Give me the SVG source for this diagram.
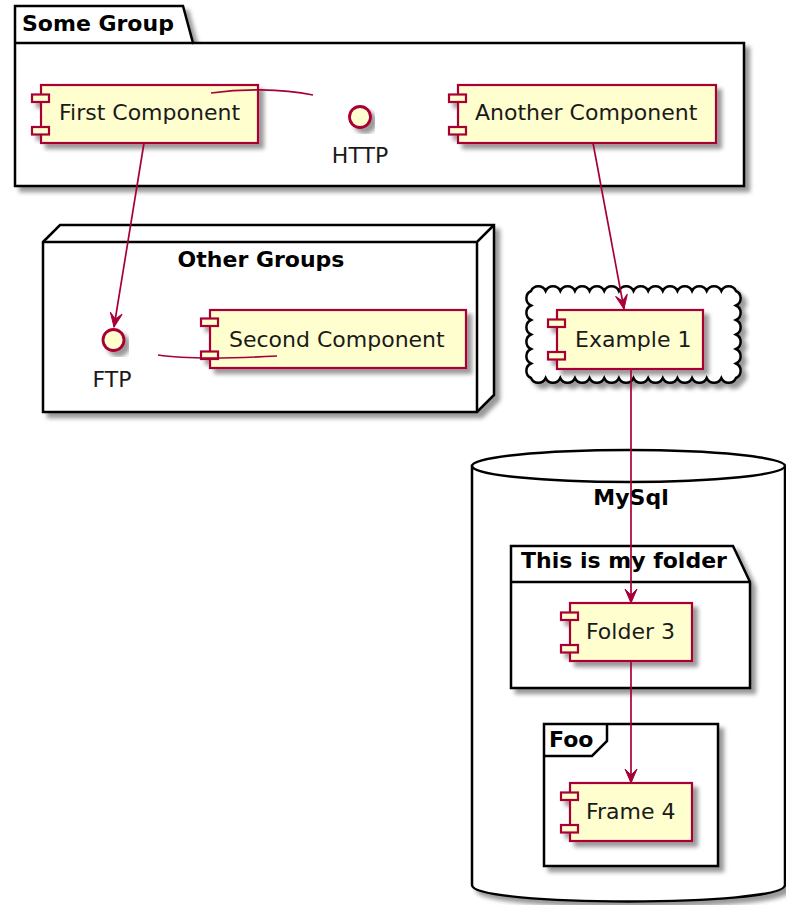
<svg xmlns="http://www.w3.org/2000/svg" width="786" height="905" viewBox="0 0 786 905">
<defs>
<filter id="sh" x="-10%" y="-10%" width="130%" height="140%">
<feGaussianBlur in="SourceAlpha" stdDeviation="2.2"/>
<feOffset dx="4.5" dy="4.5" result="o"/>
<feComponentTransfer in="o" result="s"><feFuncA type="linear" slope="0.4"/></feComponentTransfer>
<feMerge><feMergeNode in="s"/><feMergeNode in="SourceGraphic"/></feMerge>
</filter>
<marker id="ah" markerUnits="userSpaceOnUse" viewBox="-15 -7 16 14" markerWidth="16" markerHeight="14" refX="0" refY="0" orient="auto">
<path d="M0,0 L-14,-6 L-8,0 L-14,6 Z" fill="#A80036" stroke="#A80036" stroke-width="1" stroke-linejoin="miter"/>
</marker>
</defs>
<style>
.grp{fill:#fff;stroke:#000;stroke-width:2.5;}
.gl{fill:none;stroke:#000;stroke-width:2.5;}
.comp{fill:#FEFECE;stroke:#A80036;stroke-width:2.2;}
.ifc{fill:#FEFECE;stroke:#A80036;stroke-width:2.8;}
.t{font-family:"DejaVu Sans",sans-serif;font-size:22px;fill:#1a1a1a;}
.b{font-family:"DejaVu Sans",sans-serif;font-size:22px;font-weight:bold;fill:#000;}
.ln{fill:none;stroke:#A80036;stroke-width:1.7;}
</style>

<g id="some-group">
<path class="grp" filter="url(#sh)" d="M15,6 L183,6 L193,43 L744,43 L744,186 L15,186 Z"/>
<path class="gl" d="M15,43 L193,43"/>
<text class="b" x="22" y="31">Some Group</text>
</g>

<g id="other-groups">
<path class="grp" filter="url(#sh)" d="M43,242 L60,225 L494,225 L494,395 L477,412 L43,412 Z"/>
<path class="gl" d="M43,242 L477,242 L494,225 M477,242 L477,412"/>
<text class="b" x="261" y="267" text-anchor="middle">Other Groups</text>
</g>

<g id="cloud">
<path class="grp" filter="url(#sh)" d="M531,291 a8,8 0 0 1 14.643,0 a8,8 0 0 1 14.643,0 a8,8 0 0 1 14.643,0 a8,8 0 0 1 14.643,0 a8,8 0 0 1 14.643,0 a8,8 0 0 1 14.643,0 a8,8 0 0 1 14.643,0 a8,8 0 0 1 14.643,0 a8,8 0 0 1 14.643,0 a8,8 0 0 1 14.643,0 a8,8 0 0 1 14.643,0 a8,8 0 0 1 14.643,0 a8,8 0 0 1 14.643,0 a8,8 0 0 1 14.643,0 a8,8 0 0 1 0,14.5 a8,8 0 0 1 0,14.5 a8,8 0 0 1 0,14.5 a8,8 0 0 1 0,14.5 a8,8 0 0 1 0,14.5 a8,8 0 0 1 0,14.5 a8,8 0 0 1 -14.643,0 a8,8 0 0 1 -14.643,0 a8,8 0 0 1 -14.643,0 a8,8 0 0 1 -14.643,0 a8,8 0 0 1 -14.643,0 a8,8 0 0 1 -14.643,0 a8,8 0 0 1 -14.643,0 a8,8 0 0 1 -14.643,0 a8,8 0 0 1 -14.643,0 a8,8 0 0 1 -14.643,0 a8,8 0 0 1 -14.643,0 a8,8 0 0 1 -14.643,0 a8,8 0 0 1 -14.643,0 a8,8 0 0 1 -14.643,0 a8,8 0 0 1 0,-14.5 a8,8 0 0 1 0,-14.5 a8,8 0 0 1 0,-14.5 a8,8 0 0 1 0,-14.5 a8,8 0 0 1 0,-14.5 a8,8 0 0 1 0,-14.5 Z"/>
</g>

<g id="mysql">
<path class="grp" filter="url(#sh)" d="M472,466 L472,885 C472,907 785,907 785,885 L785,466 Z"/>
<ellipse class="grp" cx="628.5" cy="466" rx="156.5" ry="16"/>
<text class="b" x="631" y="505" text-anchor="middle">MySql</text>
</g>

<g id="my-folder">
<path class="grp" filter="url(#sh)" d="M511,546 L733,546 L750,582 L750,688 L511,688 Z"/>
<path class="gl" d="M511,582 L750,582"/>
<text class="b" x="521" y="568">This is my folder</text>
</g>

<g id="foo">
<rect class="grp" filter="url(#sh)" x="544" y="724" width="174" height="142"/>
<path class="gl" d="M544,756 L592,756 L607,741 L607,724"/>
<text class="b" x="549" y="747">Foo</text>
</g>

<g id="first-component">
<g filter="url(#sh)">
<rect class="comp" x="41" y="85" width="217" height="58"/>
<rect class="comp" x="32" y="94.5" width="17" height="7.5"/>
<rect class="comp" x="32" y="127" width="17" height="7.5"/>
</g>
<text class="t" x="59" y="120">First Component</text>
</g>

<g id="http">
<circle class="ifc" filter="url(#sh)" cx="360" cy="117" r="10.5"/>
<text class="t" x="360" y="163" text-anchor="middle">HTTP</text>
</g>

<g id="another-component">
<g filter="url(#sh)">
<rect class="comp" x="458" y="85" width="258" height="58"/>
<rect class="comp" x="449" y="94.5" width="17" height="7.5"/>
<rect class="comp" x="449" y="127" width="17" height="7.5"/>
</g>
<text class="t" x="475" y="120">Another Component</text>
</g>

<g id="ftp">
<circle class="ifc" filter="url(#sh)" cx="113.5" cy="340" r="10.5"/>
<text class="t" x="112" y="387" text-anchor="middle">FTP</text>
</g>

<g id="second-component">
<g filter="url(#sh)">
<rect class="comp" x="210" y="310" width="256" height="58"/>
<rect class="comp" x="201" y="318.5" width="17" height="7.5"/>
<rect class="comp" x="201" y="351.5" width="17" height="7.5"/>
</g>
<text class="t" x="229" y="347">Second Component</text>
</g>

<g id="example-1">
<g filter="url(#sh)">
<rect class="comp" x="557" y="310" width="146" height="59"/>
<rect class="comp" x="548" y="319.5" width="17" height="7.5"/>
<rect class="comp" x="548" y="352" width="17" height="7.5"/>
</g>
<text class="t" x="575" y="347">Example 1</text>
</g>

<g id="folder-3">
<g filter="url(#sh)">
<rect class="comp" x="570" y="603" width="122" height="58"/>
<rect class="comp" x="561" y="612.5" width="17" height="7.5"/>
<rect class="comp" x="561" y="645" width="17" height="7.5"/>
</g>
<text class="t" x="586" y="639">Folder 3</text>
</g>

<g id="frame-4">
<g filter="url(#sh)">
<rect class="comp" x="570" y="783" width="122" height="58"/>
<rect class="comp" x="561" y="792.5" width="17" height="7.5"/>
<rect class="comp" x="561" y="825" width="17" height="7.5"/>
</g>
<text class="t" x="586" y="819">Frame 4</text>
</g>

<g id="connectors">
<path class="ln" d="M211,93 C240,89 280,88 313,95"/>
<path class="ln" d="M158,355 C190,360 240,358 277,356"/>
<path class="ln" marker-end="url(#ah)" d="M144,143 L114,327"/>
<path class="ln" marker-end="url(#ah)" d="M593,143 L624,309"/>
<path class="ln" marker-end="url(#ah)" d="M631,369 L631,603"/>
<path class="ln" marker-end="url(#ah)" d="M631,661 L631,783"/>
</g>
</svg>
